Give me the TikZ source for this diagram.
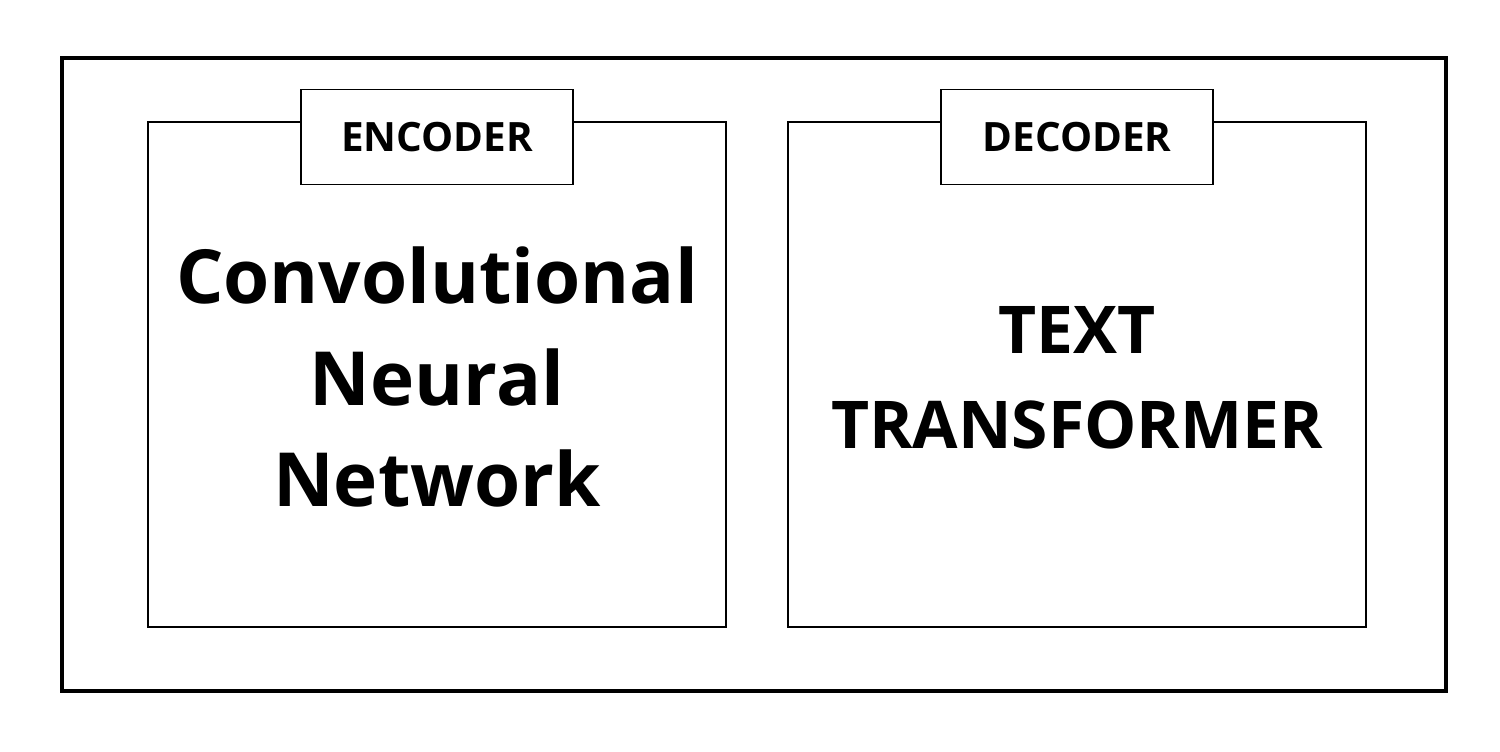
\documentclass[tikz,border=0pt]{standalone}
\usepackage{fontspec}
\setmainfont{Open Sans}

\begin{document}
\begin{tikzpicture}[x=0.2mm,y=-0.2mm,draw=black]
	\tikzstyle{frame}=[draw,line width=2.4pt,minimum width=276.8mm,minimum height=126.6mm,inner sep=0pt]
	\tikzstyle{panel}=[draw,line width=0.8pt,minimum width=115.6mm,minimum height=101mm,inner sep=0pt]
	\tikzstyle{tag}=[draw,fill=white,line width=0.8pt,minimum width=54.4mm,minimum height=19mm,inner sep=0pt,font=\bfseries\fontsize{23}{28}\selectfont]
	\tikzstyle{title}=[align=center,font=\bfseries\fontsize{42.5}{58}\selectfont]
	\tikzstyle{title caps}=[align=center,font=\bfseries\fontsize{37.5}{54}\selectfont]

	\useasboundingbox (0,0) rectangle (1500,752);

	% Draw the outer frame
	\node[frame] (F) at (754,374.5) {};

	% Draw the encoder and decoder panels
	\node[panel] (P-enc) at (437,374.5) {};
	\node[panel] (P-dec) at (1077,374.5) {};

	% Tags on top of the panels
	\node[tag] (T-enc) at ([yshift=-3.1mm]P-enc.north) {ENCODER};
	\node[tag] (T-dec) at ([yshift=-3.1mm]P-dec.north) {DECODER};

	% Panel contents
	\node[title] (cnn) at (437,377) {Convolutional\\Neural\\Network};
	\node[title caps] (tt) at (1077,378) {TEXT\\TRANSFORMER};

\end{tikzpicture}
\end{document}
